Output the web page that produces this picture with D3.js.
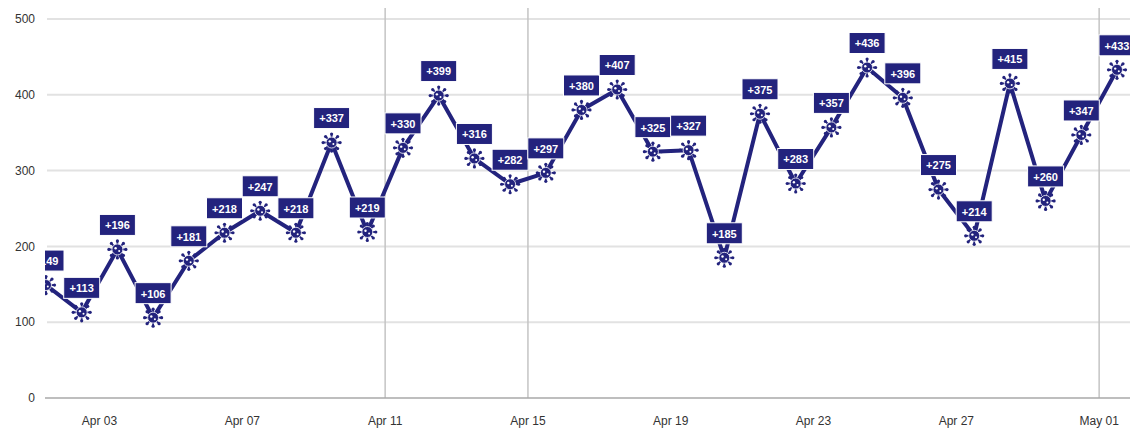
<!DOCTYPE html>
<html>
<head>
<meta charset="utf-8">
<script src="https://cdn.jsdelivr.net/npm/d3@7"></script>
<style>
  html, body { margin: 0; padding: 0; background: #fff; }
  svg { display: block; font-family: "Liberation Sans", Arial, sans-serif; }
</style>
</head>
<body>
<div id="chart"></div>
<script>
// daily values, Apr 01 .. May 01 (plotted at noon)
const startDay = '2020-04-01';
const values = [149, 113, 196, 106, 181, 218, 247, 218, 337, 219, 330, 399, 316, 282, 297, 380,
  407, 325, 327, 185, 375, 283, 357, 436, 396, 275, 214, 415, 260, 347, 433];
const yTicks = [0, 100, 200, 300, 400, 500];
const xTickDays = ['2020-04-03', '2020-04-07', '2020-04-11', '2020-04-15', '2020-04-19', '2020-04-23', '2020-04-27', '2020-05-01'];
const markedDays = ['2020-04-11', '2020-04-15', '2020-05-01'];

const W = 1130, H = 432;
const navy = '#23237d';
const parse = d3.utcParse('%Y-%m-%d');
const t0 = parse(startDay);
const data = values.map((v, i) => ({ date: d3.utcHour.offset(d3.utcDay.offset(t0, i), 12), value: v }));

const x = d3.scaleUtc()
  .domain([data[0].date, data[data.length - 1].date])
  .range([46, 1117]);
const y = d3.scaleLinear().domain([0, 500]).range([398, 19]);

const svg = d3.select('#chart').append('svg').attr('width', W).attr('height', H);

// horizontal grid
svg.append('g').selectAll('line').data(yTicks.filter(d => d > 0)).enter().append('line')
  .attr('x1', 47).attr('x2', W).attr('y1', d => y(d)).attr('y2', d => y(d))
  .attr('stroke', '#e2e2e2').attr('stroke-width', 2);

// vertical marker lines
svg.append('g').selectAll('line').data(markedDays.map(parse)).enter().append('line')
  .attr('x1', d => x(d)).attr('x2', d => x(d)).attr('y1', 8).attr('y2', y(0))
  .attr('stroke', '#c4c4c4').attr('stroke-width', 1.5);

// baseline
svg.append('line').attr('x1', 45).attr('x2', W).attr('y1', y(0)).attr('y2', y(0))
  .attr('stroke', '#a8a8a8').attr('stroke-width', 1.5);

// y labels
svg.append('g').selectAll('text').data(yTicks).enter().append('text')
  .attr('x', 35).attr('y', d => y(d)).attr('dy', '0.35em').attr('text-anchor', 'end')
  .attr('font-size', 12).attr('fill', '#333').text(d => d);

// x labels
const fmt = d3.utcFormat('%b %d');
svg.append('g').selectAll('text').data(xTickDays.map(parse)).enter().append('text')
  .attr('x', d => x(d)).attr('y', 425).attr('text-anchor', 'middle')
  .attr('font-size', 12).attr('fill', '#333').text(d => fmt(d));

// plot clip
svg.append('clipPath').attr('id', 'clip').append('rect')
  .attr('x', 45).attr('y', 0).attr('width', W - 45).attr('height', H);
const plot = svg.append('g').attr('clip-path', 'url(#clip)');

const line = d3.line().x(d => x(d.date)).y(d => y(d.value));
plot.append('path').datum(data).attr('d', line)
  .attr('fill', 'none').attr('stroke', navy).attr('stroke-width', 4).attr('stroke-linejoin', 'round');

// virus-like markers
const marker = plot.append('g').selectAll('g').data(data).enter().append('g')
  .attr('transform', d => `translate(${x(d.date)},${y(d.value)})`);
const spikes = d3.range(8).map(k => k * Math.PI / 4);
marker.selectAll('line').data(spikes).enter().append('line')
  .attr('x1', 0).attr('y1', 0)
  .attr('x2', a => Math.cos(a) * 8).attr('y2', a => Math.sin(a) * 8)
  .attr('stroke', navy).attr('stroke-width', 1.8);
marker.selectAll('circle.tip').data(spikes).enter().append('circle').attr('class', 'tip')
  .attr('cx', a => Math.cos(a) * 8.5).attr('cy', a => Math.sin(a) * 8.5).attr('r', 1.6).attr('fill', navy);
marker.append('circle').attr('r', 5.5).attr('fill', navy).attr('stroke', '#fff').attr('stroke-width', 0.8);
marker.append('circle').attr('r', 1.2).attr('cx', -1.8).attr('cy', -1.2).attr('fill', '#fff');
marker.append('circle').attr('r', 1).attr('cx', 1.8).attr('cy', 1.5).attr('fill', '#fff');

// value labels
const lab = plot.append('g').selectAll('g').data(data).enter().append('g')
  .attr('transform', d => `translate(${x(d.date)},${y(d.value) - 24})`);
lab.append('rect').attr('x', -18).attr('y', -11).attr('width', 36).attr('height', 21)
  .attr('fill', navy).attr('stroke', '#fff').attr('stroke-width', 1);
lab.append('text').attr('text-anchor', 'middle').attr('dy', '0.35em')
  .attr('font-size', 11).attr('font-weight', 'bold').attr('fill', '#fff')
  .text(d => '+' + d.value);
</script>
</body>
</html>
